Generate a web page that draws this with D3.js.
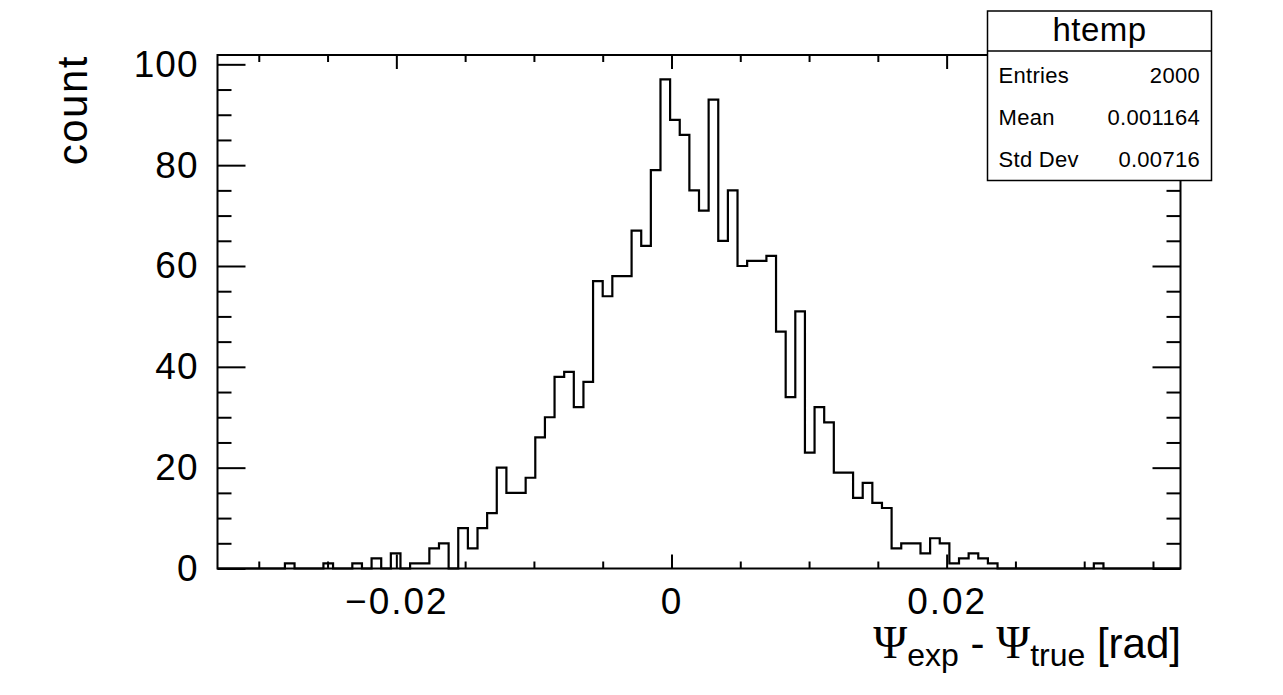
<!DOCTYPE html>
<html><head><meta charset="utf-8">
<script src="https://cdn.jsdelivr.net/npm/d3@7"></script>
<style>
body{margin:0;background:#fff}
svg{display:block}
text{font-family:"Liberation Sans",Arial,Helvetica,sans-serif;fill:#000}
</style>
</head><body>
<svg id="c" width="1283" height="695"></svg>
<script>
// ---- data ----
const histName = "htemp";
const xMin = -0.033, xMax = 0.037, nBins = 100;
const counts = [
  0,0,0,0,0,0,0,1,0,0,
  0,1,0,0,1,0,2,0,3,0,
  1,1,4,5,0,8,4,8,11,20,
  15,15,18,26,30,38,39,32,37,57,
  54,58,58,67,64,79,97,89,86,75,
  71,93,65,75,60,61,61,62,47,34,
  51,23,32,29,19,19,14,17,13,12,
  4,5,5,3,6,5,1,2,3,2,
  1,0,0,0,0,0,0,0,0,0,
  0,1,0,0,0,0,0,0,0,0
];
const xMajorTicks = [-0.02, 0, 0.02];
const xTickLabels = ["\u22120.02", "0", "0.02"];
const xMinorStep = 0.005;
const yMajorTicks = [0, 20, 40, 60, 80, 100];
const yTickLabels = ["0", "20", "40", "60", "80", "100"];
const yMinorStep = 5;
const yMax = 101.85;
const statsLabels = ["Entries", "Mean", "Std Dev"];
const statsValues = ["2000", "0.001164", "0.00716"];
const yTitle = "count";

// ---- layout ----
const L = 217.5, R = 1180.5, T = 55, B = 568.5;
const svg = d3.select("#c");
const x = d3.scaleLinear().domain([xMin, xMax]).range([L, R]);
const y = d3.scaleLinear().domain([0, yMax]).range([B, T]);
const binW = (xMax - xMin) / nBins;

// histogram outline
const pts = [[xMin, 0]];
counts.forEach((c, i) => pts.push([xMin + i * binW, c]));
pts.push([xMax, counts[counts.length - 1]]);
pts.push([xMax, 0]);
const line = d3.line().x(d => x(d[0])).y(d => y(d[1])).curve(d3.curveStepAfter);
svg.append("path").attr("d", line(pts)).attr("fill", "none")
  .attr("stroke", "#000").attr("stroke-width", 2.2);

// ticks
const xMinor = d3.range(-0.03, 0.0351, xMinorStep).map(v => +v.toFixed(4))
  .filter(v => !xMajorTicks.some(m => Math.abs(m - v) < 1e-9));
const yMinor = d3.range(0, 101, yMinorStep).filter(v => v % 20 !== 0);

function styleAxis(g) {
  g.select(".domain").remove();
  g.selectAll(".tick line").attr("stroke", "#000").attr("stroke-width", 2);
}
const labFont = '"Liberation Sans",Arial,sans-serif';
// bottom
svg.append("g").attr("transform", `translate(0,${B})`)
  .call(d3.axisBottom(x).tickValues(xMinor).tickSize(-7).tickFormat("")).call(styleAxis);
svg.append("g").attr("transform", `translate(0,${B})`)
  .call(d3.axisBottom(x).tickValues(xMajorTicks).tickSize(-14).tickPadding(19)
    .tickFormat((d, i) => xTickLabels[i])).call(styleAxis)
  .selectAll("text").attr("font-size", 37).attr("letter-spacing", 2).attr("font-family", labFont);
// top
svg.append("g").attr("transform", `translate(0,${T})`)
  .call(d3.axisTop(x).tickValues(xMinor).tickSize(-7).tickFormat("")).call(styleAxis);
svg.append("g").attr("transform", `translate(0,${T})`)
  .call(d3.axisTop(x).tickValues(xMajorTicks).tickSize(-14).tickFormat("")).call(styleAxis);
// left
svg.append("g").attr("transform", `translate(${L},0)`)
  .call(d3.axisLeft(y).tickValues(yMinor).tickSize(-14).tickFormat("")).call(styleAxis);
svg.append("g").attr("transform", `translate(${L},0)`)
  .call(d3.axisLeft(y).tickValues(yMajorTicks).tickSize(-28).tickPadding(19)
    .tickFormat((d, i) => yTickLabels[i])).call(styleAxis)
  .selectAll("text").attr("font-size", 37).attr("letter-spacing", 1).attr("font-family", labFont);
// right
svg.append("g").attr("transform", `translate(${R},0)`)
  .call(d3.axisRight(y).tickValues(yMinor).tickSize(-14).tickFormat("")).call(styleAxis);
svg.append("g").attr("transform", `translate(${R},0)`)
  .call(d3.axisRight(y).tickValues(yMajorTicks).tickSize(-28).tickFormat("")).call(styleAxis);

// frame
svg.append("rect").attr("x", L).attr("y", T).attr("width", R - L).attr("height", B - T)
  .attr("fill", "none").attr("stroke", "#000").attr("stroke-width", 2);

// y title
svg.append("text").attr("transform", `translate(87,${T}) rotate(-90)`)
  .attr("text-anchor", "end").attr("font-size", 42).attr("letter-spacing", 1.5).text(yTitle);

// x title
const serif = '"Liberation Serif","DejaVu Serif",serif';
const xt = svg.append("text").attr("x", 1181).attr("y", 658).attr("text-anchor", "end").attr("font-size", 42);
xt.append("tspan").attr("font-family", serif).attr("font-size", 46).text("\u03A8");
xt.append("tspan").attr("font-size", 32).attr("dy", 8).text("exp");
xt.append("tspan").attr("dy", -8).text(" - ");
xt.append("tspan").attr("font-family", serif).attr("font-size", 46).text("\u03A8");
xt.append("tspan").attr("font-size", 32).attr("dy", 8).text("true");
xt.append("tspan").attr("dy", -8).text(" [rad]");

// stats box
const sb = {x0: 987.5, y0: 11, x1: 1211.5, y1: 180.5, sep: 51};
svg.append("rect").attr("x", sb.x0).attr("y", sb.y0).attr("width", sb.x1 - sb.x0).attr("height", sb.y1 - sb.y0)
  .attr("fill", "#fff").attr("stroke", "#000").attr("stroke-width", 1.5);
svg.append("line").attr("x1", sb.x0).attr("x2", sb.x1).attr("y1", sb.sep).attr("y2", sb.sep)
  .attr("stroke", "#000").attr("stroke-width", 1.5);
svg.append("text").attr("x", (sb.x0 + sb.x1) / 2).attr("y", 41).attr("text-anchor", "middle")
  .attr("font-size", 33).attr("letter-spacing", 0.5).text(histName);
const rowY = [83, 125, 167];
statsLabels.forEach((s, i) => {
  svg.append("text").attr("x", 998.5).attr("y", rowY[i]).attr("font-size", 22).attr("letter-spacing", 0.3).text(s);
  svg.append("text").attr("x", 1200).attr("y", rowY[i]).attr("text-anchor", "end").attr("font-size", 22).attr("letter-spacing", 0.3).text(statsValues[i]);
});
</script>
</body></html>
